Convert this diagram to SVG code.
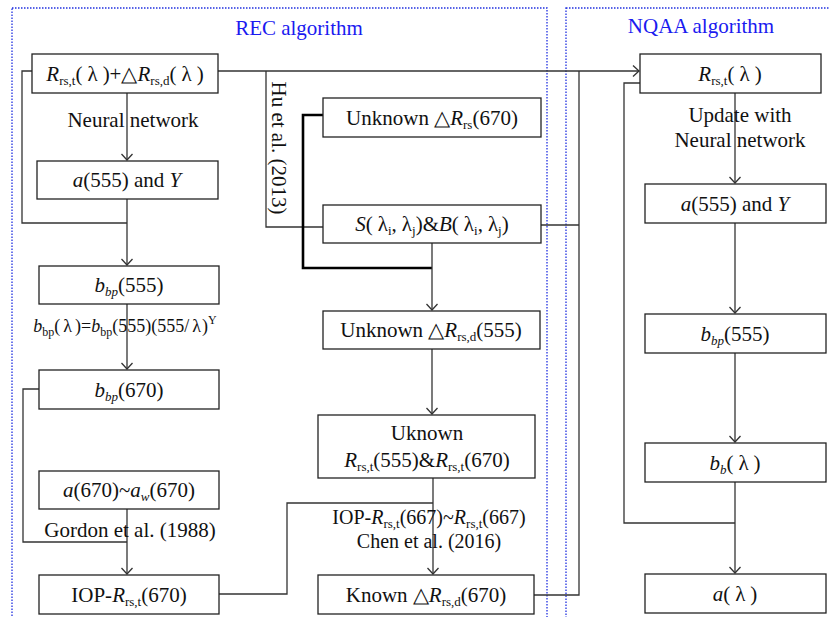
<svg xmlns="http://www.w3.org/2000/svg" width="830" height="617" viewBox="0 0 830 617">
<style>
.frame{fill:none;stroke:#2030e0;stroke-width:1.3;stroke-dasharray:1.5 1.5}
.box{fill:#fff;stroke:#222;stroke-width:1.3}
.c{fill:none;stroke:#333;stroke-width:1.3}
.thick{fill:none;stroke:#000;stroke-width:2.6}
.t{font-family:"Liberation Serif","Times New Roman",serif;font-size:21px;fill:#111}
.t20{font-family:"Liberation Serif","Times New Roman",serif;font-size:20px;fill:#111}
.f{font-family:"Liberation Serif","Times New Roman",serif;font-size:18px;fill:#111}
.title{font-family:"Liberation Serif","Times New Roman",serif;font-size:21px;fill:#1a1af0}
.i{font-style:italic}
.s{font-size:13px}
.s2{font-size:12px}
</style>
<defs>
<marker id="arr" markerUnits="userSpaceOnUse" markerWidth="14" markerHeight="14" viewBox="-8 -7 10 14" refX="0" refY="0" orient="auto">
<path d="M-6,-5.5 L0,0 L-6,5.5" fill="none" stroke="#333" stroke-width="1.3"/>
</marker>
</defs>
<rect width="830" height="617" fill="#fff"/>
<g id="frames">
<rect class="frame" x="12" y="8" width="535" height="630"/>
<rect class="frame" x="566" y="8" width="290" height="630"/>
<text class="title" x="299" y="35" text-anchor="middle">REC algorithm</text>
<text class="title" x="701" y="33" text-anchor="middle">NQAA algorithm</text>
</g>
<g id="connectors">
<path class="c" d="M127,93 V160" marker-end="url(#arr)"/>
<path class="c" d="M127,199 V265" marker-end="url(#arr)"/>
<path class="c" d="M32,71 H22 V223 H127"/>
<path class="c" d="M218,71 H639" marker-end="url(#arr)"/>
<path class="c" d="M266,71 V227 H323"/>
<path class="thick" d="M323,115 H303 V268 H432"/>
<path class="c" d="M432,243 V310" marker-end="url(#arr)"/>
<path class="c" d="M541,225 H579"/>
<path class="c" d="M579,71 V595 H534"/>
<path class="c" d="M127,304 V369" marker-end="url(#arr)"/>
<path class="c" d="M39,389 H23 V542 H127"/>
<path class="c" d="M127,509 V574" marker-end="url(#arr)"/>
<path class="c" d="M219,594 H287 V503 H433"/>
<path class="c" d="M432,349 V414" marker-end="url(#arr)"/>
<path class="c" d="M433,478 V574" marker-end="url(#arr)"/>
<path class="c" d="M640,83 H624 V523 H735"/>
<path class="c" d="M735,93 V183" marker-end="url(#arr)"/>
<path class="c" d="M735,223 V313" marker-end="url(#arr)"/>
<path class="c" d="M735,353 V442" marker-end="url(#arr)"/>
<path class="c" d="M735,482 V573" marker-end="url(#arr)"/>
</g>
<g id="labels">
<text class="t" x="133" y="127" text-anchor="middle">Neural network</text>
<text class="t" transform="translate(272,148) rotate(90)" text-anchor="middle">Hu et al. (2013)</text>
<text class="f" x="125" y="332" text-anchor="middle"><tspan class="i">b</tspan><tspan class="s2" dy="4">bp</tspan><tspan dy="-4">(</tspan><tspan dx="3">λ</tspan><tspan dx="3">)=</tspan><tspan class="i">b</tspan><tspan class="s2" dy="4">bp</tspan><tspan dy="-4">(555)(555/</tspan><tspan dx="3">λ</tspan><tspan dx="1">)</tspan><tspan class="s2" dy="-8">Y</tspan></text>
<text class="t" x="130" y="537" text-anchor="middle">Gordon et al. (1988)</text>
<text class="t20" x="429" y="524" text-anchor="middle">IOP-<tspan class="i">R</tspan><tspan class="s" dy="4">rs,t</tspan><tspan dy="-4">(667)~</tspan><tspan class="i">R</tspan><tspan class="s" dy="4">rs,t</tspan><tspan dy="-4">(667)</tspan></text>
<text class="t20" x="429" y="548" text-anchor="middle">Chen et al. (2016)</text>
<text class="t" x="740" y="122" text-anchor="middle">Update with</text>
<text class="t" x="740" y="147" text-anchor="middle">Neural network</text>
</g>
<g id="n1"><rect class="box" x="32" y="54" width="186" height="39"/>
<text class="t" x="125" y="81" text-anchor="middle"><tspan class="i">R</tspan><tspan class="s" dy="4">rs,t</tspan><tspan dy="-4">(</tspan><tspan dx="5">λ</tspan><tspan dx="5">)+△</tspan><tspan class="i">R</tspan><tspan class="s" dy="4">rs,d</tspan><tspan dy="-4">(</tspan><tspan dx="5">λ</tspan><tspan dx="5">)</tspan></text></g>
<g id="n2"><rect class="box" x="37" y="161" width="181" height="38"/>
<text class="t" x="127" y="187" text-anchor="middle"><tspan class="i">a</tspan>(555) and <tspan class="i">Y</tspan></text></g>
<g id="n3"><rect class="box" x="39" y="266" width="180" height="38"/>
<text class="t" x="129" y="292" text-anchor="middle"><tspan class="i">b</tspan><tspan class="s i" dy="4">bp</tspan><tspan dy="-4">(555)</tspan></text></g>
<g id="n4"><rect class="box" x="39" y="370" width="180" height="39"/>
<text class="t" x="129" y="397" text-anchor="middle"><tspan class="i">b</tspan><tspan class="s i" dy="4">bp</tspan><tspan dy="-4">(670)</tspan></text></g>
<g id="n5"><rect class="box" x="39" y="471" width="180" height="38"/>
<text class="t" x="129" y="497" text-anchor="middle"><tspan class="i">a</tspan>(670)~<tspan class="i">a</tspan><tspan class="s i" dy="4">w</tspan><tspan dy="-4">(670)</tspan></text></g>
<g id="n6"><rect class="box" x="39" y="575" width="180" height="39"/>
<text class="t" x="129" y="602" text-anchor="middle">IOP-<tspan class="i">R</tspan><tspan class="s" dy="4">rs,t</tspan><tspan dy="-4">(670)</tspan></text></g>
<g id="n7"><rect class="box" x="323" y="98" width="218" height="39"/>
<text class="t" x="432" y="125" text-anchor="middle">Unknown △<tspan class="i">R</tspan><tspan class="s" dy="4">rs</tspan><tspan dy="-4">(670)</tspan></text></g>
<g id="n8"><rect class="box" x="323" y="205" width="218" height="38"/>
<text class="t" x="432" y="231" text-anchor="middle"><tspan class="i">S</tspan>(<tspan dx="5">λ</tspan><tspan class="s" dy="4">i</tspan><tspan dy="-4">,</tspan><tspan dx="5">λ</tspan><tspan class="s" dy="4">j</tspan><tspan dy="-4">)&amp;</tspan><tspan class="i">B</tspan>(<tspan dx="5">λ</tspan><tspan class="s" dy="4">i</tspan><tspan dy="-4">,</tspan><tspan dx="5">λ</tspan><tspan class="s" dy="4">j</tspan><tspan dy="-4">)</tspan></text></g>
<g id="n9"><rect class="box" x="323" y="311" width="217" height="38"/>
<text class="t" x="431" y="337" text-anchor="middle">Unknown △<tspan class="i">R</tspan><tspan class="s" dy="4">rs,d</tspan><tspan dy="-4">(555)</tspan></text></g>
<g id="n10"><rect class="box" x="318" y="415" width="217" height="63"/>
<text class="t" x="427" y="440" text-anchor="middle">Uknown</text>
<text class="t" x="427" y="467" text-anchor="middle"><tspan class="i">R</tspan><tspan class="s" dy="4">rs,t</tspan><tspan dy="-4">(555)&amp;</tspan><tspan class="i">R</tspan><tspan class="s" dy="4">rs,t</tspan><tspan dy="-4">(670)</tspan></text></g>
<g id="n11"><rect class="box" x="318" y="575" width="216" height="39"/>
<text class="t" x="426" y="602" text-anchor="middle">Known △<tspan class="i">R</tspan><tspan class="s" dy="4">rs,d</tspan><tspan dy="-4">(670)</tspan></text></g>
<g id="n12"><rect class="box" x="640" y="54" width="181" height="39"/>
<text class="t" x="730" y="81" text-anchor="middle"><tspan class="i">R</tspan><tspan class="s" dy="4">rs,t</tspan><tspan dy="-4">(</tspan><tspan dx="5">λ</tspan><tspan dx="5">)</tspan></text></g>
<g id="n13"><rect class="box" x="645" y="184" width="181" height="39"/>
<text class="t" x="735" y="211" text-anchor="middle"><tspan class="i">a</tspan>(555) and <tspan class="i">Y</tspan></text></g>
<g id="n14"><rect class="box" x="645" y="314" width="181" height="39"/>
<text class="t" x="735" y="341" text-anchor="middle"><tspan class="i">b</tspan><tspan class="s i" dy="4">bp</tspan><tspan dy="-4">(555)</tspan></text></g>
<g id="n15"><rect class="box" x="645" y="443" width="181" height="39"/>
<text class="t" x="735" y="470" text-anchor="middle"><tspan class="i">b</tspan><tspan class="s i" dy="4">b</tspan><tspan dy="-4">(</tspan><tspan dx="5">λ</tspan><tspan dx="5">)</tspan></text></g>
<g id="n16"><rect class="box" x="645" y="574" width="181" height="39"/>
<text class="t" x="735" y="601" text-anchor="middle"><tspan class="i">a</tspan>(<tspan dx="5">λ</tspan><tspan dx="5">)</tspan></text></g>
</svg>
